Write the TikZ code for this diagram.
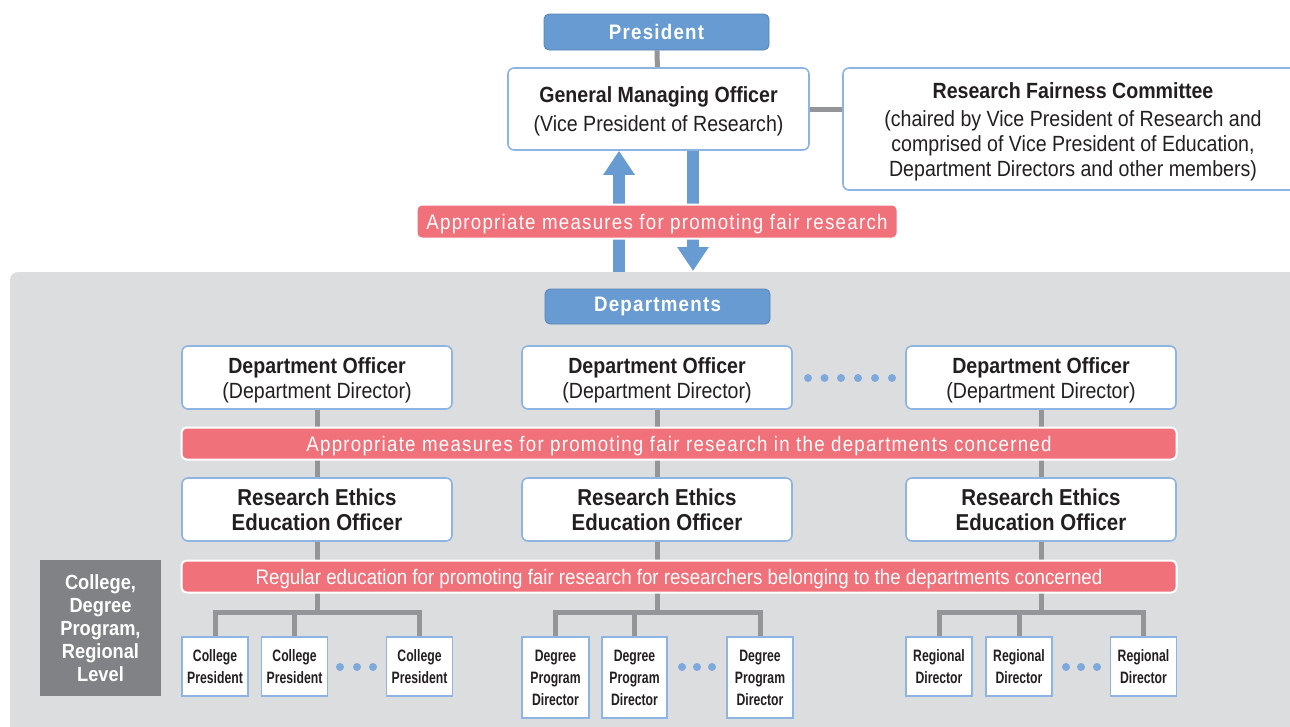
\documentclass[tikz,border=0pt]{standalone}
\usepackage{fontspec}
\setmainfont[FakeStretch=0.89]{Liberation Sans}
\newfontfamily\narrowfont[FakeStretch=0.74]{Liberation Sans}
\usepackage{xcolor}
\definecolor{headBlue}{HTML}{679BD2}
\definecolor{frameBlue}{HTML}{8DB4E2}
\definecolor{dotBlue}{HTML}{7EA9DC}
\definecolor{barPink}{HTML}{F1717A}
\definecolor{linkGray}{HTML}{939598}
\definecolor{areaGray}{HTML}{DCDDDF}
\definecolor{levelGray}{HTML}{808285}
\definecolor{darkText}{HTML}{231F20}
\usepackage{tikz}
\usetikzlibrary{
    arrows.meta,
    positioning,
    calc,
    backgrounds
}
% invisible strut to push the first line a bit lower
\newcommand{\topgap}[1]{\rule{0pt}{#1}}
\tikzset{
    % Base style for all boxes
    org base/.style={
        align=center,
        inner sep=0pt,
        text=darkText,
    },
    % Blue heading boxes (President, Departments)
    head box/.style={
        org base,
        rectangle,
        rounded corners=5pt,
        fill=headBlue,
        draw=headBlue!85!black,
        line width=0.8pt,
        text=white,
        font=\fontsize{21}{24}\selectfont\bfseries\addfontfeature{LetterSpace=6},
        minimum width=225pt,
    },
    % White officer boxes with blue frame
    officer/.style={
        org base,
        rectangle,
        rounded corners=6pt,
        fill=white,
        draw=frameBlue,
        line width=1.6pt,
        font=\fontsize{22}{25}\selectfont,
    },
    % Pink bars with measures
    measure bar/.style={
        org base,
        rectangle,
        rounded corners=5pt,
        fill=barPink,
        draw=white,
        line width=2pt,
        text=white,
        font=\fontsize{21}{24}\selectfont,
    },
    % Small boxes at college / program / regional level
    member box/.style={
        org base,
        rectangle,
        fill=white,
        draw=frameBlue,
        line width=1.6pt,
        font=\narrowfont\fontsize{16.5}{22}\selectfont\bfseries,
    },
    % Grey level label
    level box/.style={
        org base,
        rectangle,
        fill=levelGray,
        text=white,
        font=\fontsize{20.5}{23}\selectfont\bfseries,
    },
    % Grey connectors
    link/.style={
        draw=linkGray,
        line width=5pt,
    },
    % Thick blue arrows
    block arrow/.style={
        -{Triangle[width=30pt, length=24pt]},
        draw=headBlue,
        line width=12pt,
    },
}

\begin{document}
\begin{tikzpicture}[x=1pt, y=-1pt]
    \useasboundingbox (0,0) rectangle (1290,726);
    \clip (0,0) rectangle (1290,726);

    % top level
    \node (pres) [head box, minimum height=36pt] at (656.5,32) {President};
    \node (gmo) [officer, minimum width=301pt, minimum height=82pt] at (658.5,109)
        {\topgap{20pt}\bfseries General Managing Officer\\[4pt](Vice President of Research)};
    \node (rfc) [officer, minimum width=460pt, minimum height=122pt] at (1073,129)
        {\topgap{21pt}\bfseries Research Fairness Committee\\[3pt](chaired by Vice President of Research and\\comprised of Vice President of Education,\\Department Directors and other members)};

    \coordinate (upfoot) at (619,272);
    \coordinate (downfoot) at (693,271);
    \draw [block arrow] (upfoot) -- (upfoot |- gmo.south);
    \draw [block arrow] (downfoot |- gmo.south) -- (downfoot);

    \node (bar1) [measure bar, minimum width=481pt, minimum height=34pt] at (657,221.5)
        {\topgap{19.5pt}\addfontfeature{LetterSpace=6}Appropriate measures for promoting fair research};

    % department level
    \node (dept) [head box, minimum height=35pt] at (657.5,306.5) {Departments};

    \node (do1) [officer, minimum width=270pt, minimum height=63pt] at (317,377.5)
        {\topgap{22pt}\bfseries Department Officer\\(Department Director)};
    \node (do2) [officer, minimum width=270pt, minimum height=63pt] at (657,377.5)
        {\topgap{22pt}\bfseries Department Officer\\(Department Director)};
    \node (do3) [officer, minimum width=270pt, minimum height=63pt] at (1041,377.5)
        {\topgap{22pt}\bfseries Department Officer\\(Department Director)};

    \node (bar2) [measure bar, minimum width=995pt, minimum height=32pt] at (679,443.5)
        {\topgap{21pt}\addfontfeature{LetterSpace=6}Appropriate measures for promoting fair research in the departments concerned};

    \node (ree1) [officer, minimum width=270pt, minimum height=63pt, font=\fontsize{23}{25}\selectfont\bfseries] at (317,509.5)
        {Research Ethics\\Education Officer};
    \node (ree2) [officer, minimum width=270pt, minimum height=63pt, font=\fontsize{23}{25}\selectfont\bfseries] at (657,509.5)
        {Research Ethics\\Education Officer};
    \node (ree3) [officer, minimum width=270pt, minimum height=63pt, font=\fontsize{23}{25}\selectfont\bfseries] at (1041,509.5)
        {Research Ethics\\Education Officer};

    \node (bar3) [measure bar, minimum width=995pt, minimum height=32pt] at (679,576.5)
        {\topgap{19.5pt}Regular education for promoting fair research for researchers belonging to the departments concerned};

    % college, degree program, regional level
    \node (level) [level box, minimum width=121pt, minimum height=136pt] at (100.5,628)
        {College,\\Degree\\Program,\\Regional\\Level};

    \node (cp1) [member box, minimum width=66pt, minimum height=59pt] at (215,666.5) {College\\President};
    \node (cp2) [member box, minimum width=66pt, minimum height=59pt] at (294.5,666.5) {College\\President};
    \node (cp3) [member box, minimum width=66pt, minimum height=59pt] at (419.5,666.5) {College\\President};

    \node (dp1) [member box, minimum width=67pt, minimum height=81pt] at (555.5,677.5) {Degree\\Program\\Director};
    \node (dp2) [member box, minimum width=65pt, minimum height=81pt] at (634.5,677.5) {Degree\\Program\\Director};
    \node (dp3) [member box, minimum width=66pt, minimum height=81pt] at (760,677.5) {Degree\\Program\\Director};

    \node (rd1) [member box, minimum width=66pt, minimum height=59pt] at (939,666.5) {Regional\\Director};
    \node (rd2) [member box, minimum width=66pt, minimum height=59pt] at (1019,666.5) {Regional\\Director};
    \node (rd3) [member box, minimum width=66pt, minimum height=59pt] at (1143.5,666.5) {Regional\\Director};

    % dots
    \foreach \dx in {808,824.5,841,858,875,892}
        \fill [dotBlue] (\dx,378) circle (4pt);
    \foreach \dx in {340,357,373, 682,697,712, 1066,1081,1097}
        \fill [dotBlue] (\dx,667) circle (4pt);

    \coordinate (t1) at (317,612);
    \coordinate (t2) at (657,612);
    \coordinate (t3) at (1041,612);

    \begin{pgfonlayer}{background}
        \fill [areaGray, rounded corners=8pt] (10,272) rectangle (1310,745);
        \draw [link] (pres) -- (gmo);
        \draw [link] (gmo.east) -- (gmo.east -| rfc.west);
        \foreach \col in {1,2,3} {
            \draw [link] (do\col) -- (ree\col);
        }
        \draw [link] (ree1) -- (t1);
        \draw [link] (ree2) -- (t2);
        \draw [link] (ree3) -- (t3);
        \draw [link] (cp1) |- (t1) -| (cp3);
        \draw [link] (t1 -| cp2) -- (cp2);
        \draw [link] (dp1) |- (t2) -| (dp3);
        \draw [link] (t2 -| dp2) -- (dp2);
        \draw [link] (rd1) |- (t3) -| (rd3);
        \draw [link] (t3 -| rd2) -- (rd2);
    \end{pgfonlayer}
\end{tikzpicture}
\end{document}
